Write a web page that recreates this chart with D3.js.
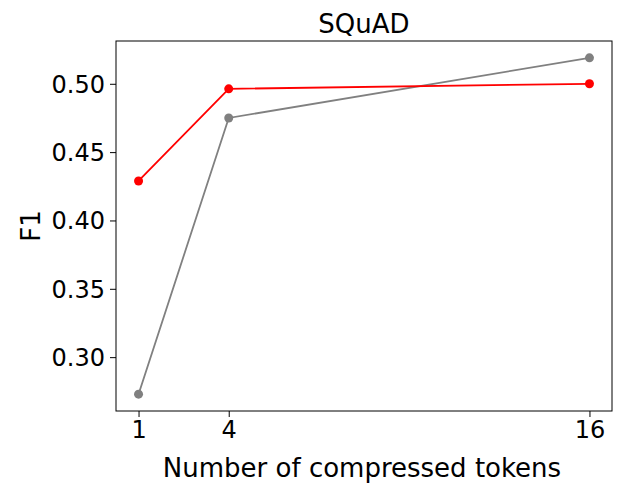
<!DOCTYPE html>
<html><head><meta charset="utf-8">
<script src="https://cdn.jsdelivr.net/npm/d3@7"></script>
<style>body{margin:0;background:#fff}text{font-family:"DejaVu Sans",sans-serif}</style>
</head><body><svg id="c" width="622" height="493"></svg>
<script>
const tokens = [1, 4, 16];
const redF1 = [0.4289, 0.4963, 0.5000];
const grayF1 = [0.2729, 0.4750, 0.5190];
const xTicks = [1, 4, 16];
const yTicks = [0.30, 0.35, 0.40, 0.45, 0.50];

const svg = d3.select('#c');
const L = 116, R = 612, T = 41, B = 411;
const x = d3.scaleLinear().domain([0.25, 16.75]).range([L, R]);
const y = d3.scaleLinear().domain([0.2606, 0.5313]).range([B, T]);

const line = d3.line().x((d, i) => x(tokens[i])).y(d => y(d));
[[grayF1, 'gray'], [redF1, 'red']].forEach(([vals, col]) => {
    svg.append('path').attr('d', line(vals)).attr('fill', 'none')
        .attr('stroke', col).attr('stroke-width', 1.8);
    svg.selectAll(null).data(vals).enter().append('circle')
        .attr('cx', (d, i) => x(tokens[i])).attr('cy', d => y(d))
        .attr('r', 4.5).attr('fill', col);
});

svg.append('rect').attr('x', L).attr('y', T).attr('width', R - L).attr('height', B - T)
    .attr('fill', 'none').attr('stroke', '#000').attr('stroke-width', 1);

const xa = svg.append('g').attr('transform', `translate(0,${B})`)
    .call(d3.axisBottom(x).tickValues(xTicks).tickSize(6).tickPadding(4).tickFormat(d3.format('d')));
const ya = svg.append('g').attr('transform', `translate(${L},0)`)
    .call(d3.axisLeft(y).tickValues(yTicks).tickSize(6).tickPadding(5).tickFormat(d3.format('.2f')));
[xa, ya].forEach(a => {
    a.attr('font-size', null).attr('font-family', null);
    a.select('.domain').remove();
    a.selectAll('text').style('font-size', '24px').attr('fill', '#000');
    a.selectAll('line').attr('stroke', '#000');
});
ya.selectAll('text').attr('dy', '0.35em');

svg.append('text').attr('x', (L + R) / 2 - 2).attr('y', 477).attr('text-anchor', 'middle')
    .style('font-size', '26px').text('Number of compressed tokens');
svg.append('text').attr('transform', `translate(40,${(T + B) / 2}) rotate(-90)`)
    .attr('text-anchor', 'middle').style('font-size', '26px').text('F1');
svg.append('text').attr('x', (L + R) / 2).attr('y', 33).attr('text-anchor', 'middle')
    .style('font-size', '26px').text('SQuAD');
</script></body></html>
